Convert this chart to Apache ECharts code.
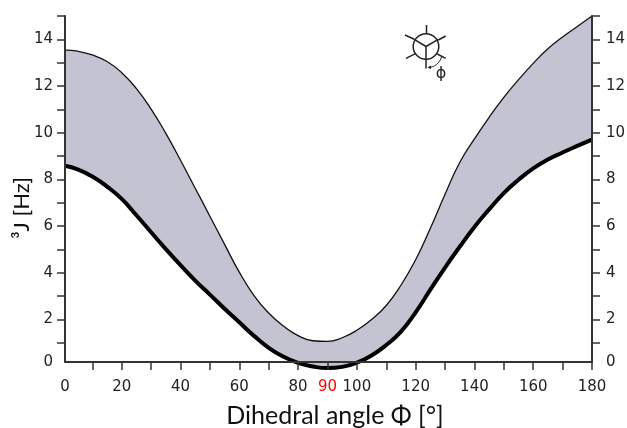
<!DOCTYPE html>
<html>
<head>
<meta charset="utf-8">
<style>html,body{margin:0;padding:0;background:#fff}#c{width:627px;height:428px}</style>
<script src="https://cdn.jsdelivr.net/npm/echarts@6/dist/echarts.min.js"></script>
</head>
<body>
<div id="c"></div>
<script>
const angles = [0.7,5,10,15,20,25,30,35,40,45,50,55,60,65,70,75,80,85,90,95,100,105,110,115,120,125,130,135,140,145,150,155,160,165,170,175,180];
const upperJ = [13.54,13.49,13.33,13.05,12.57,11.89,11.01,9.97,8.82,7.62,6.42,5.21,4.02,3.02,2.27,1.71,1.30,1.08,1.05,1.21,1.53,1.99,2.59,3.46,4.55,5.9,7.36,8.72,9.73,10.66,11.51,12.27,12.97,13.6,14.1,14.55,15];
const lowerJ = [8.58,8.43,8.12,7.69,7.16,6.46,5.73,5.01,4.32,3.66,3.06,2.45,1.87,1.29,0.78,0.40,0.13,-0.02,-0.09,-0.04,0.14,0.45,0.90,1.47,2.30,3.27,4.22,5.11,5.96,6.71,7.41,7.98,8.47,8.85,9.15,9.43,9.7];
const xBase = 0.7;
const xTicks = [10,20,30,40,50,60,70,80,90,100,110,120,130,140,150,160,170,180];
const xLabels = [xBase,20,40,60,80,90,100,120,140,160,180];
const yBase = 0.17;
const yTicks = [1,2,3,4,5,6,7,8,9,10,11,12,13,14,15];
const yLabels = [yBase,2,4,6,8,10,12,14];

const axisColor = '#333';
const labelFont = 'DejaVu Sans';
const yAxisBase = {
  type: 'value', min: yBase, max: 15, z: 5,
  splitLine: {show: false},
  axisLine: {show: true, onZero: false, lineStyle: {color: axisColor, width: 2}},
  axisTick: {show: true, length: 8, customValues: yTicks, lineStyle: {color: axisColor, width: 1.5}},
};
const yLabel = margin => ({
  fontFamily: labelFont, fontSize: 15, color: '#222', margin: margin,
  customValues: yLabels,
  formatter: v => v < 1 ? '0' : String(v)
});

const chart = echarts.init(document.getElementById('c'), null, {renderer: 'canvas'});
chart.setOption({
  animation: false,
  backgroundColor: '#fff',
  grid: {left: 65, right: 35, top: 16, bottom: 66, containLabel: false, outerBoundsMode: 'none'},
  xAxis: {
    type: 'value', min: xBase, max: 180, z: 5,
    name: 'Dihedral angle Φ [°]', nameLocation: 'middle', nameGap: 41,
    nameTextStyle: {fontFamily: 'Lato', fontSize: 25, color: '#111', padding: [0, 0, 0, 13]},
    splitLine: {show: false},
    axisLine: {show: true, onZero: false, lineStyle: {color: axisColor, width: 2}},
    axisTick: {show: true, length: 8, customValues: xTicks, lineStyle: {color: axisColor, width: 1.5}},
    axisLabel: {
      fontFamily: labelFont, fontSize: 15, color: '#222', margin: 18, hideOverlap: false,
      customValues: xLabels,
      formatter: v => v === 90 ? '{r|90}' : (v < 1 ? '0' : String(v)),
      rich: {r: {color: '#f00', fontFamily: labelFont, fontSize: 15}}
    }
  },
  yAxis: [
    Object.assign({}, yAxisBase, {position: 'left', axisLabel: yLabel(12)}),
    Object.assign({}, yAxisBase, {position: 'right', axisLabel: yLabel(14)})
  ],
  series: [
    {
      type: 'custom', z: 1, silent: true,
      data: angles.map((a, i) => [a, lowerJ[i], upperJ[i]]),
      encode: {x: 0, y: [1, 2]},
      renderItem: (params, api) => {
        if (params.dataIndex !== 0) return null;
        const top = angles.map((a, i) => api.coord([a, upperJ[i]]));
        const bot = angles.map((a, i) => api.coord([a, lowerJ[i]])).reverse();
        return {type: 'polygon', shape: {points: top.concat(bot)}, style: {fill: '#c3c3d1'}};
      }
    },
    {
      type: 'line', z: 3, data: angles.map((a, i) => [a, upperJ[i]]),
      symbol: 'none', smooth: 0.5, clip: false,
      lineStyle: {color: '#111', width: 1.3}
    },
    {
      type: 'line', z: 3, data: angles.map((a, i) => [a, lowerJ[i]]),
      symbol: 'none', smooth: 0.5, clip: false,
      lineStyle: {color: '#000', width: 4}
    }
  ],
  graphic: [
    {type: 'text', x: 22, y: 208, rotation: Math.PI / 2, z: 10,
     style: {text: '³J [Hz]', fontFamily: 'Lato', fontSize: 22, fill: '#111', align: 'center', verticalAlign: 'middle'}},
    {type: 'group', z: 10, children: [
      {type: 'circle', shape: {cx: 426, cy: 46.5, r: 12.8}, style: {fill: 'none', stroke: '#222', lineWidth: 1.5}},
      {type: 'line', shape: {x1: 426, y1: 46.5, x2: 414.3, y2: 39.3}, style: {stroke: '#222', lineWidth: 1.5}},
      {type: 'line', shape: {x1: 426, y1: 46.5, x2: 438.3, y2: 39.3}, style: {stroke: '#222', lineWidth: 1.5}},
      {type: 'line', shape: {x1: 426, y1: 46.5, x2: 426, y2: 68.5}, style: {stroke: '#222', lineWidth: 1.5}},
      {type: 'line', shape: {x1: 426.5, y1: 25, x2: 426.5, y2: 34}, style: {stroke: '#222', lineWidth: 1.5}},
      {type: 'line', shape: {x1: 405, y1: 35, x2: 414.3, y2: 39.3}, style: {stroke: '#222', lineWidth: 1.5}},
      {type: 'line', shape: {x1: 445.7, y1: 36, x2: 438.3, y2: 40}, style: {stroke: '#222', lineWidth: 1.5}},
      {type: 'line', shape: {x1: 406, y1: 58.3, x2: 416, y2: 53.3}, style: {stroke: '#222', lineWidth: 1.5}},
      {type: 'line', shape: {x1: 445.7, y1: 58.3, x2: 437.3, y2: 54}, style: {stroke: '#222', lineWidth: 1.5}},
      {type: 'bezierCurve', shape: {x1: 428.5, y1: 67.5, cpx1: 434, cpy1: 67.5, cpx2: 440, cpy2: 63, x2: 441.5, y2: 57}, style: {fill: 'none', stroke: '#222', lineWidth: 1}},
      {type: 'polygon', shape: {points: [[427.5, 67.5], [431, 65.5], [431, 69]]}, style: {fill: '#222'}},
      {type: 'text', x: 441, y: 73.5, style: {text: 'ϕ', fontFamily: 'DejaVu Sans', fontSize: 16, fill: '#222', align: 'center', verticalAlign: 'middle'}}
    ]}
  ]
});
</script>
</body>
</html>
